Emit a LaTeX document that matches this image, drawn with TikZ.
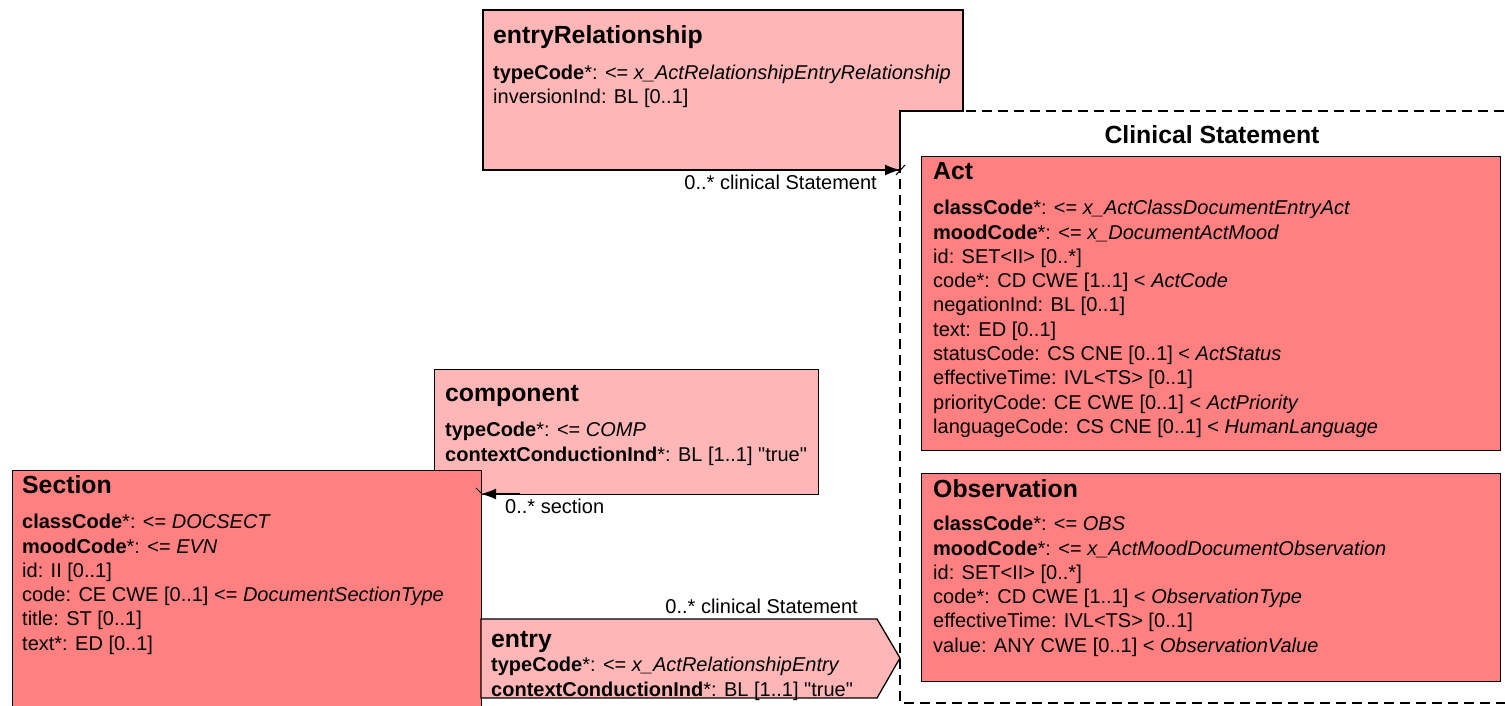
\documentclass[tikz,border=0pt]{standalone}
\usepackage{fontspec}
\setmainfont{Liberation Sans}
\usetikzlibrary{arrows.meta}
\definecolor{relpink}{HTML}{FFB6B6}
\definecolor{actred}{HTML}{FF8080}
\newcommand{\attkey}[1]{\textbf{#1}}
\begin{document}
\begin{tikzpicture}[x=1pt,y=-1pt,
    box/.style={draw=black, line width=1.3pt, anchor=north west, inner sep=0pt},
    title/.style={anchor=base west, inner sep=0pt, font=\fontsize{24.8}{28}\selectfont\bfseries},
    attrs/.style={anchor=north west, inner sep=0pt, align=left, font=\fontsize{20}{24.3}\selectfont},
    lbl/.style={inner sep=0pt, font=\fontsize{20}{24}\selectfont},
    assoc/.style={line width=1.3pt, -{Latex[length=15pt,width=11pt]}}]
  \clip (0,0) rectangle (1505,705);
  % Clinical Statement frame
  \draw[line width=1.3pt, dash pattern=on 10pt off 6pt] (1520,111) -- (900,111) -- (900,703) -- (1520,703);
  \node[title, anchor=base] (cstitle) at (1212,143) {Clinical Statement};
  % entryRelationship
  \coordinate (er) at (483,10);
  \filldraw[fill=relpink, line width=1.3pt] (er) -- (963,10) -- (963,111) -- (900,111) -- (900,170) -- (483,170) -- cycle;
  \node[title] (ertitle) at ([xshift=10pt,yshift=-33pt]er) {entryRelationship};
  \node[attrs] (erattrs) at ([xshift=10pt,yshift=-55pt]er)
    {\attkey{typeCode}*: <= \textit{x\_ActRelationshipEntryRelationship}\\
     inversionInd: BL [0..1]};
  % Act
  \node[box, fill=actred, minimum width=579pt, minimum height=294pt] (act) at (921,156) {};
  \node[title] (acttitle) at ([xshift=12pt,yshift=-23pt]act.north west) {Act};
  \node[attrs] (actattrs) at ([xshift=12pt,yshift=-44pt]act.north west)
    {\attkey{classCode}*: <= \textit{x\_ActClassDocumentEntryAct}\\
     \attkey{moodCode}*: <= \textit{x\_DocumentActMood}\\
     id: SET<II> [0..*]\\
     code*: CD CWE [1..1] < \textit{ActCode}\\
     negationInd: BL [0..1]\\
     text: ED [0..1]\\
     statusCode: CS CNE [0..1] < \textit{ActStatus}\\
     effectiveTime: IVL<TS> [0..1]\\
     priorityCode: CE CWE [0..1] < \textit{ActPriority}\\
     languageCode: CS CNE [0..1] < \textit{HumanLanguage}};
  % Observation
  \node[box, fill=actred, minimum width=579pt, minimum height=208pt] (obs) at (921,473) {};
  \node[title] (obstitle) at ([xshift=12pt,yshift=-24pt]obs.north west) {Observation};
  \node[attrs] (obsattrs) at ([xshift=12pt,yshift=-43pt]obs.north west)
    {\attkey{classCode}*: <= \textit{OBS}\\
     \attkey{moodCode}*: <= \textit{x\_ActMoodDocumentObservation}\\
     id: SET<II> [0..*]\\
     code*: CD CWE [1..1] < \textit{ObservationType}\\
     effectiveTime: IVL<TS> [0..1]\\
     value: ANY CWE [0..1] < \textit{ObservationValue}};
  % component
  \node[box, fill=relpink, minimum width=384pt, minimum height=125pt] (comp) at (434,369) {};
  \node[title] (comptitle) at ([xshift=11pt,yshift=-32pt]comp.north west) {component};
  \node[attrs] (compattrs) at ([xshift=11pt,yshift=-53pt]comp.north west)
    {\attkey{typeCode}*: <= \textit{COMP}\\
     \attkey{contextConductionInd}*: BL [1..1] \textquotedbl true\textquotedbl};
  % Section
  \node[box, fill=actred, minimum width=469pt, minimum height=260pt] (section) at (12,470) {};
  \node[title] (sectitle) at ([xshift=10pt,yshift=-23pt]section.north west) {Section};
  \node[attrs] (secattrs) at ([xshift=10pt,yshift=-44pt]section.north west)
    {\attkey{classCode}*: <= \textit{DOCSECT}\\
     \attkey{moodCode}*: <= \textit{EVN}\\
     id: II [0..1]\\
     code: CE CWE [0..1] <= \textit{DocumentSectionType}\\
     title: ST [0..1]\\
     text*: ED [0..1]};
  % entry
  \coordinate (en) at (481,619);
  \filldraw[fill=relpink, line width=1.3pt] (en) -- (877,619) -- (900,658) -- (877,698) -- (481,698) -- cycle;
  \node[title] (entitle) at ([xshift=10pt,yshift=-28pt]en) {entry};
  \node[attrs] (enattrs) at ([xshift=10pt,yshift=-38pt]en)
    {\attkey{typeCode}*: <= \textit{x\_ActRelationshipEntry}\\
     \attkey{contextConductionInd}*: BL [1..1] \textquotedbl true\textquotedbl};
  % associations
  \coordinate (erfoot) at (860,170);
  \coordinate (csin) at (900,170);
  \draw[assoc] (erfoot) -- (csin);
  \draw[line width=1pt] ([shift={(-4,5)}]csin) -- ++(9,-10);
  \coordinate (compfoot) at (520,494);
  \coordinate (secin) at (481,494);
  \draw[assoc] (compfoot) -- (secin);
  \draw[line width=1pt] ([shift={(-5,-6)}]secin) -- ++(6,6);
  \node[lbl, anchor=base east] (erlbl) at (877,189) {0..* clinical Statement};
  \node[lbl, anchor=base west] (seclbl) at (505,513) {0..* section};
  \node[lbl, anchor=base east] (enlbl) at (858,613) {0..* clinical Statement};
\end{tikzpicture}
\end{document}
